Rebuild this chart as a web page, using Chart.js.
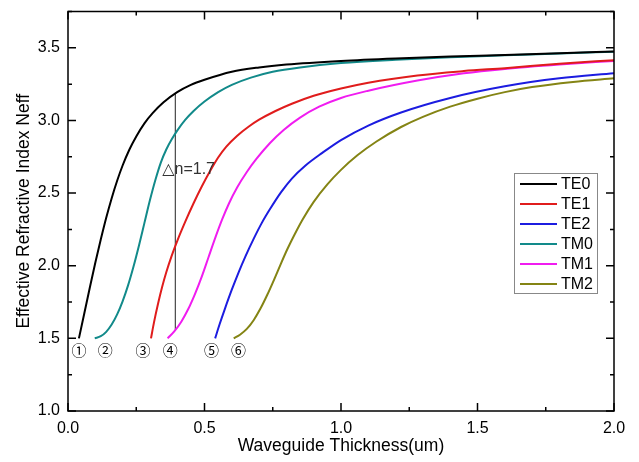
<!DOCTYPE html>
<html>
<head>
<meta charset="utf-8">
<script src="https://cdn.jsdelivr.net/npm/chart.js@4"></script>
<style>
  html, body { margin: 0; padding: 0; background: #fff; }
  #wrap { width: 639px; height: 462px; }
</style>
</head>
<body>
<div id="wrap"><canvas id="chart"></canvas></div>
<script>
// mode curves: thickness (um) vs effective index
const te0X = [0.04, 0.06, 0.08, 0.10, 0.12, 0.14, 0.16, 0.18, 0.20, 0.225, 0.25, 0.28, 0.31, 0.35, 0.40, 0.45, 0.50, 0.60, 0.70, 0.80, 1.00, 1.20, 1.40, 1.60, 1.80, 2.00];
const te0Y = [1.50, 1.675, 1.85, 2.02, 2.18, 2.33, 2.465, 2.585, 2.69, 2.80, 2.89, 2.98, 3.05, 3.125, 3.195, 3.245, 3.28, 3.335, 3.365, 3.385, 3.41, 3.427, 3.44, 3.45, 3.462, 3.475];

const te1X = [0.304, 0.315, 0.33, 0.345, 0.36, 0.38, 0.40, 0.43, 0.46, 0.49, 0.52, 0.55, 0.58, 0.62, 0.66, 0.70, 0.76, 0.82, 0.90, 1.00, 1.10, 1.28, 1.45, 1.60, 1.80, 2.00];
const te1Y = [1.50, 1.61, 1.74, 1.855, 1.955, 2.07, 2.17, 2.305, 2.43, 2.545, 2.65, 2.745, 2.82, 2.895, 2.955, 3.005, 3.065, 3.115, 3.17, 3.22, 3.26, 3.31, 3.34, 3.36, 3.39, 3.415];

const te2X = [0.539, 0.555, 0.575, 0.60, 0.625, 0.65, 0.68, 0.71, 0.74, 0.78, 0.82, 0.87, 0.93, 1.00, 1.10, 1.22, 1.40, 1.60, 1.80, 2.00];
const te2Y = [1.50, 1.595, 1.705, 1.835, 1.955, 2.065, 2.185, 2.295, 2.39, 2.505, 2.60, 2.69, 2.775, 2.865, 2.965, 3.055, 3.155, 3.235, 3.29, 3.325];

const tm0X = [0.098, 0.12, 0.14, 0.16, 0.18, 0.20, 0.22, 0.24, 0.26, 0.28, 0.30, 0.32, 0.34, 0.36, 0.38, 0.40, 0.43, 0.46, 0.50, 0.55, 0.60, 0.67, 0.75, 0.85, 1.00, 1.20, 1.40, 1.60, 1.80, 2.00];
const tm0Y = [1.50, 1.515, 1.545, 1.595, 1.665, 1.755, 1.865, 1.995, 2.14, 2.295, 2.45, 2.59, 2.71, 2.80, 2.87, 2.93, 3.005, 3.065, 3.13, 3.195, 3.245, 3.295, 3.335, 3.365, 3.395, 3.418, 3.435, 3.448, 3.461, 3.473];

const tm1X = [0.365, 0.39, 0.415, 0.44, 0.465, 0.49, 0.515, 0.54, 0.565, 0.59, 0.62, 0.655, 0.69, 0.74, 0.79, 0.85, 0.92, 1.00, 1.10, 1.28, 1.45, 1.60, 1.80, 2.00];
const tm1Y = [1.50, 1.55, 1.615, 1.70, 1.805, 1.925, 2.06, 2.195, 2.32, 2.43, 2.54, 2.645, 2.735, 2.845, 2.935, 3.02, 3.095, 3.155, 3.205, 3.275, 3.325, 3.355, 3.385, 3.41];

const tm2X = [0.607, 0.63, 0.655, 0.68, 0.705, 0.73, 0.755, 0.78, 0.805, 0.83, 0.86, 0.90, 0.95, 1.00, 1.06, 1.13, 1.22, 1.30, 1.40, 1.50, 1.60, 1.70, 1.85, 2.00];
const tm2Y = [1.50, 1.525, 1.565, 1.625, 1.705, 1.80, 1.905, 2.015, 2.12, 2.215, 2.32, 2.44, 2.56, 2.66, 2.76, 2.855, 2.955, 3.025, 3.095, 3.15, 3.195, 3.23, 3.265, 3.29];

// delta-n marker line and label
const deltaLineX = [0.393, 0.393];
const deltaLineY = [1.56, 3.19];
const deltaText = '△n=1.7';
const deltaTextPos = [0.345, 2.66];

// circled cut-off labels
const cutLabels = ['①', '②', '③', '④', '⑤', '⑥'];
const cutLabelX = [0.040, 0.136, 0.275, 0.375, 0.526, 0.625];
const cutLabelY = [1.42, 1.42, 1.42, 1.42, 1.42, 1.42];

function pts(xs, ys) {
    return xs.map((x, i) => ({ x: x, y: ys[i] }));
}

function curve(label, xs, ys, color) {
    return {
        label: label,
        data: pts(xs, ys),
        borderColor: color,
        backgroundColor: color,
        borderWidth: 2,
        pointRadius: 0,
        cubicInterpolationMode: 'monotone',
        fill: false
    };
}

const isMajor = v => Math.abs(v * 2 - Math.round(v * 2)) < 1e-6;

// frame, inward ticks, annotations and inside legend
const decorPlugin = {
    id: 'decor',
    afterDatasetsDraw(chart) {
        const ctx = chart.ctx;
        const a = chart.chartArea;
        const xs = chart.scales.x, ys = chart.scales.y;
        ctx.save();
        ctx.strokeStyle = '#000';
        ctx.lineWidth = 1.5;
        ctx.strokeRect(a.left, a.top, a.right - a.left, a.bottom - a.top);

        ctx.beginPath();
        xs.ticks.forEach(t => {
            const p = xs.getPixelForValue(t.value);
            const len = isMajor(t.value) ? 8 : 4;
            ctx.moveTo(p, a.bottom); ctx.lineTo(p, a.bottom - len);
            ctx.moveTo(p, a.top); ctx.lineTo(p, a.top + len);
        });
        ys.ticks.forEach(t => {
            const p = ys.getPixelForValue(t.value);
            const len = isMajor(t.value) ? 8 : 4;
            ctx.moveTo(a.left, p); ctx.lineTo(a.left + len, p);
            ctx.moveTo(a.right, p); ctx.lineTo(a.right - len, p);
        });
        ctx.stroke();

        // delta label
        ctx.fillStyle = '#333';
        ctx.font = '16px "Liberation Sans", "DejaVu Sans", sans-serif';
        ctx.textBaseline = 'middle';
        ctx.textAlign = 'left';
        ctx.fillText(deltaText, xs.getPixelForValue(deltaTextPos[0]), ys.getPixelForValue(deltaTextPos[1]));

        // circled numbers
        ctx.fillStyle = '#000';
        ctx.font = '15px "Noto Sans CJK SC", "DejaVu Sans", sans-serif';
        ctx.textAlign = 'center';
        cutLabels.forEach((s, i) => {
            ctx.fillText(s, xs.getPixelForValue(cutLabelX[i]), ys.getPixelForValue(cutLabelY[i]));
        });

        // legend box
        const items = chart.data.datasets.filter(d => !d.legendSkip);
        const bx = 514, by = 173, bw = 83, bh = 120;
        ctx.fillStyle = '#fff';
        ctx.fillRect(bx, by, bw, bh);
        ctx.strokeStyle = '#888';
        ctx.lineWidth = 1;
        ctx.strokeRect(bx + 0.5, by + 0.5, bw, bh);
        ctx.font = '16px "Liberation Sans", Arial, sans-serif';
        ctx.textAlign = 'left';
        items.forEach((d, i) => {
            const y = by + 11 + i * 20;
            ctx.strokeStyle = d.borderColor;
            ctx.lineWidth = 2;
            ctx.beginPath();
            ctx.moveTo(bx + 6, y); ctx.lineTo(bx + 43, y);
            ctx.stroke();
            ctx.fillStyle = '#000';
            ctx.fillText(d.label, bx + 47, y + 1);
        });
        ctx.restore();
    }
};

const axisFont = { family: '"Liberation Sans", Arial, sans-serif', size: 16 };
const titleFont = { family: '"Liberation Sans", Arial, sans-serif', size: 17.5 };

new Chart(document.getElementById('chart'), {
    type: 'line',
    data: {
        datasets: [
            curve('TE0', te0X, te0Y, '#000000'),
            curve('TE1', te1X, te1Y, '#e01c1c'),
            curve('TE2', te2X, te2Y, '#1c1ce0'),
            curve('TM0', tm0X, tm0Y, '#128a8a'),
            curve('TM1', tm1X, tm1Y, '#f01cf0'),
            curve('TM2', tm2X, tm2Y, '#848414'),
            {
                label: 'delta',
                legendSkip: true,
                data: pts(deltaLineX, deltaLineY),
                borderColor: '#222',
                borderWidth: 1,
                pointRadius: 0,
                tension: 0
            }
        ]
    },
    options: {
        responsive: true,
        maintainAspectRatio: false,
        animation: false,
        layout: { padding: { top: 11.5, right: 25, left: 0, bottom: 0 } },
        plugins: {
            legend: { display: false },
            tooltip: { enabled: false }
        },
        scales: {
            x: {
                type: 'linear',
                min: 0,
                max: 2,
                border: { display: false },
                grid: { display: false, drawTicks: false },
                ticks: {
                    stepSize: 0.25,
                    autoSkip: false,
                    maxRotation: 0,
                    padding: 8,
                    color: '#000',
                    font: axisFont,
                    callback: v => isMajor(v) ? v.toFixed(1) : ''
                },
                title: {
                    display: true,
                    text: 'Waveguide Thickness(um)',
                    color: '#000',
                    font: titleFont,
                    padding: { top: 2, bottom: 5 }
                },
                afterFit: s => { s.height = 51; s.paddingLeft = 0; s.paddingRight = 0; }
            },
            y: {
                type: 'linear',
                min: 1,
                max: 3.75,
                border: { display: false },
                grid: { display: false, drawTicks: false },
                ticks: {
                    stepSize: 0.25,
                    autoSkip: false,
                    padding: 8,
                    color: '#000',
                    font: axisFont,
                    callback: v => isMajor(v) ? v.toFixed(1) : ''
                },
                title: {
                    display: true,
                    text: 'Effective Refractive Index Neff',
                    color: '#000',
                    font: titleFont,
                    padding: { top: 14, bottom: 4 }
                },
                afterFit: s => { s.width = 68; s.paddingTop = 0; s.paddingBottom = 0; }
            }
        }
    },
    plugins: [decorPlugin]
});
</script>
</body>
</html>
